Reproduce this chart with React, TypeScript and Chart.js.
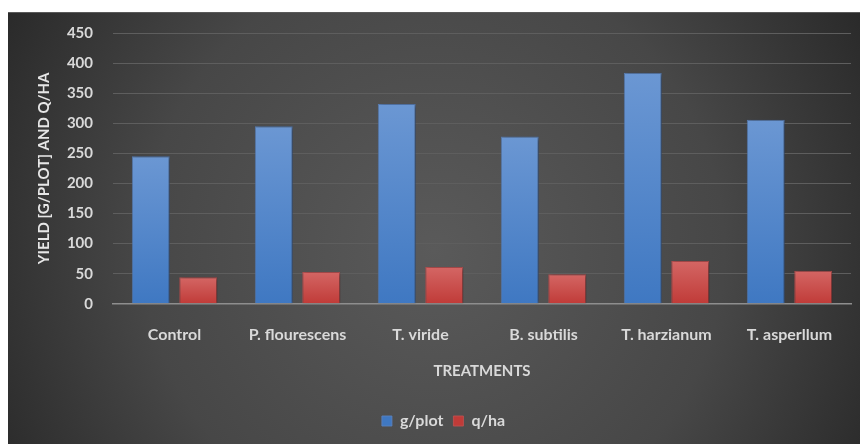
import React, { useEffect, useRef } from "react";
import { Chart, registerables } from "chart.js";

Chart.register(...registerables);

const categories = ["Control", "P. flourescens", "T. viride", "B. subtilis", "T. harzianum", "T. asperllum"];
const gPlot = [245, 295, 332, 278, 384, 306];
const qHa = [44, 53, 61, 49, 71, 55];
const seriesNames = ["g/plot", "q/ha"];
const yTicks = { min: 0, max: 450, step: 50 };
const xTitle = "TREATMENTS";
const yTitle = "YIELD [G/PLOT] AND Q/HA";

const FONT = "Lato, 'Open Sans', sans-serif";
const TEXT = "#d9d9d9";

function barGradient(top: string, bottom: string, solid: string) {
  return (ctx: any) => {
    if (ctx.type !== "data") return solid;
    const chart = ctx.chart;
    const y = chart.scales && chart.scales.y;
    if (!y || !chart.chartArea) return solid;
    const v = ctx.raw as number;
    const yTop = y.getPixelForValue(v);
    const yBot = y.getPixelForValue(0);
    if (!isFinite(yTop) || !isFinite(yBot) || yTop === yBot) return solid;
    const g = chart.ctx.createLinearGradient(0, yTop, 0, yBot);
    g.addColorStop(0, top);
    g.addColorStop(1, bottom);
    return g;
  };
}

const bgPlugin = {
  id: "bgPlugin",
  beforeDraw(chart: any) {
    const { ctx, width, height } = chart;
    ctx.save();
    const g = ctx.createRadialGradient(width * 0.5, height * 0.55, 0, width * 0.5, height * 0.55, width * 0.62);
    g.addColorStop(0, "#5a5a5a");
    g.addColorStop(0.55, "#474747");
    g.addColorStop(1, "#242424");
    ctx.fillStyle = g;
    ctx.fillRect(0, 0, width, height);
    ctx.strokeStyle = "#5a5a5a";
    ctx.lineWidth = 1;
    ctx.beginPath();
    ctx.moveTo(0, 0.5);
    ctx.lineTo(width, 0.5);
    ctx.stroke();
    ctx.restore();
  },
};

const shadowPlugin = {
  id: "shadowPlugin",
  beforeDatasetsDraw(chart: any) {
    const ctx = chart.ctx;
    ctx.save();
    ctx.shadowColor = "rgba(0,0,0,0.45)";
    ctx.shadowBlur = 4;
    ctx.shadowOffsetX = 2;
    ctx.shadowOffsetY = 1;
  },
  afterDatasetsDraw(chart: any) {
    chart.ctx.restore();
  },
};

const legendShift = {
  id: "legendShift",
  afterLayout(chart: any) {
    const lg = chart.legend;
    if (lg) {
      lg.left += 14;
      lg.right += 14;
    }
  },
};

export default function App() {
  const ref = useRef<HTMLCanvasElement | null>(null);
  useEffect(() => {
    if (!ref.current) return;
    const chart = new Chart(ref.current, {
      type: "bar",
      data: {
        labels: categories,
        datasets: [
          {
            label: seriesNames[0],
            data: gPlot,
            backgroundColor: barGradient("#6b97d3", "#3f78c2", "#4a80c9"),
            borderColor: "rgba(90,130,190,0.9)",
            borderWidth: 1,
            categoryPercentage: 0.772,
            barPercentage: 0.8,
          },
          {
            label: seriesNames[1],
            data: qHa,
            backgroundColor: barGradient("#d46664", "#c03b38", "#c9413f"),
            borderColor: "rgba(190,80,80,0.9)",
            borderWidth: 1,
            categoryPercentage: 0.772,
            barPercentage: 0.8,
          },
        ],
      },
      options: {
        animation: false,
        responsive: true,
        maintainAspectRatio: false,
        layout: { padding: { top: 21, right: 9, left: 0, bottom: 5 } },
        plugins: {
          tooltip: { enabled: false },
          legend: {
            position: "bottom",
            labels: {
              color: TEXT,
              boxWidth: 10,
              boxHeight: 10,
              padding: 10,
              font: { family: FONT, size: 16, weight: "bold" },
            },
          },
        },
        scales: {
          x: {
            grid: { display: false, drawTicks: false },
            border: { display: true, color: "#8e8e8e", width: 1.5 },
            ticks: {
              color: TEXT,
              padding: 21,
              font: { family: FONT, size: 16, weight: "bold" },
            },
            title: {
              display: true,
              text: xTitle,
              color: TEXT,
              font: { family: FONT, size: 15, weight: "bold" },
              padding: { top: -3, bottom: 23 },
            },
          },
          y: {
            min: yTicks.min,
            max: yTicks.max,
            afterFit(scale: any) {
              scale.width = 105;
            },
            grid: {
              color: "#5e5e5e",
              lineWidth: 1,
              drawTicks: true,
              tickLength: 20,
              tickColor: "rgba(0,0,0,0)",
            },
            border: { display: false },
            ticks: {
              stepSize: yTicks.step,
              color: TEXT,
              padding: 0,
              font: { family: FONT, size: 15, weight: "bold" },
            },
            title: {
              display: true,
              text: yTitle,
              color: "#e6e6e6",
              font: { family: FONT, size: 15, weight: "bold" },
              padding: { top: 27, bottom: 0 },
            },
          },
        },
      },
      plugins: [bgPlugin, shadowPlugin, legendShift],
    });
    return () => chart.destroy();
  }, []);
  return (
    <div style={{ position: "fixed", left: 8, top: 12, width: 852, height: 432 }}>
      <canvas ref={ref} />
    </div>
  );
}
